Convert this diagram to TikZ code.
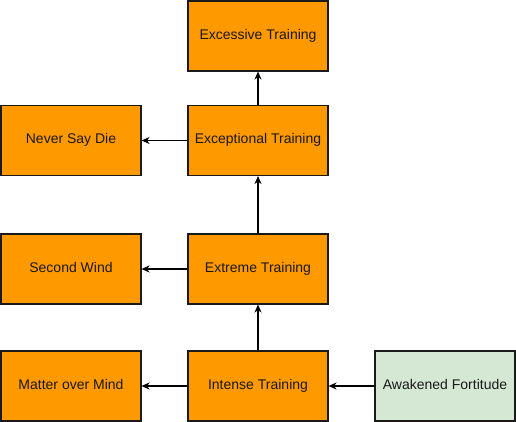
\documentclass[tikz,border=0pt]{standalone}
\usepackage{fontspec}
\setmainfont{Liberation Sans}
\usetikzlibrary{arrows.meta}
\definecolor{boxorange}{HTML}{FF9900}
\definecolor{boxgreen}{HTML}{D5E8D4}
\definecolor{edge}{HTML}{1A1A1A}
\tikzset{
  box/.style={draw=edge, line width=1.1pt, minimum width=140pt, minimum height=70pt,
    inner sep=0pt, text height=10pt, text depth=3pt,
    font=\fontsize{14pt}{16pt}\selectfont, text=black!90, fill=boxorange},
  greenbox/.style={box, fill=boxgreen},
  conn/.style={draw=black, line width=1.1pt, -{Stealth[length=8pt,width=7pt,inset=2.5pt]}}
}
\begin{document}
\begin{tikzpicture}[x=1pt,y=-1pt]
\useasboundingbox (0,0) rectangle (516,422);
\node[box] (excessive) at (258,36) {Excessive Training};
\node[box] (never) at (71,140.5) {Never Say Die};
\node[box] (exceptional) at (258,140.5) {Exceptional Training};
\node[box] (second) at (71,269) {Second Wind};
\node[box] (extreme) at (258,269) {Extreme Training};
\node[box] (matter) at (71,386) {Matter over Mind};
\node[box] (intense) at (258,386) {Intense Training};
\node[greenbox] (awakened) at (445,386) {Awakened Fortitude};
\draw[conn] (exceptional) -- (excessive);
\draw[conn] (exceptional) -- (never);
\draw[conn] (extreme) -- (exceptional);
\draw[conn] (extreme) -- (second);
\draw[conn] (intense) -- (extreme);
\draw[conn] (intense) -- (matter);
\draw[conn] (awakened) -- (intense);
\end{tikzpicture}
\end{document}
